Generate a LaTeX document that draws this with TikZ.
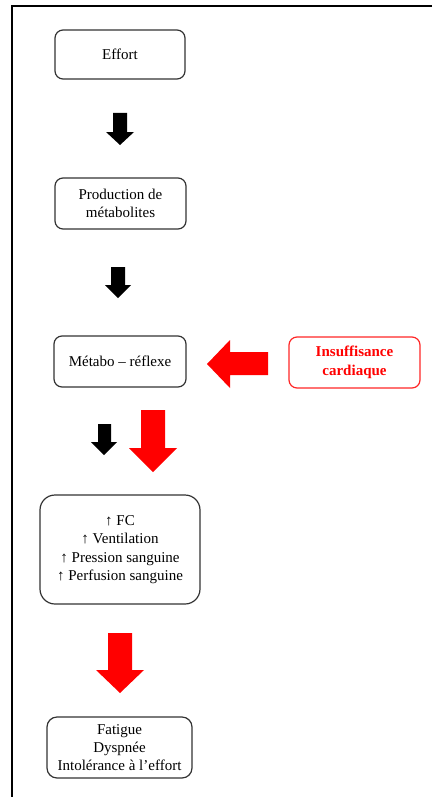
\documentclass[tikz,border=0pt]{standalone}
\usepackage{fontspec}
\setmainfont{Liberation Serif}
\usetikzlibrary{positioning}

\definecolor{boxgray}{HTML}{333333}
\definecolor{alertred}{HTML}{FF0000}

\tikzset{
  etape/.style={draw=boxgray,line width=1.2pt,rounded corners=8pt,align=center,
    font=\fontsize{15}{18.5}\selectfont,inner sep=2pt},
  alerte/.style={etape,draw=alertred!85,text=alertred,font=\fontsize{15}{18.5}\selectfont\bfseries}
}

\begin{document}
\begin{tikzpicture}[x=1pt,y=-1pt]
\useasboundingbox (0,0) rectangle (441,797);
% frame
\draw[line width=2pt] (432,6)--(12,6)--(12,797);
% boxes
\node[etape,minimum width=130pt,minimum height=49pt] (effort) at (120,54.5){Effort};
\node[etape,minimum width=131pt,minimum height=51pt] (prod) at (120.5,203.5){Production de\\métabolites};
\node[etape,minimum width=132pt,minimum height=51pt] (metabo) at (120,361.5){Métabo -- réflexe};
\node[alerte,minimum width=131pt,minimum height=51pt] (ic) at (354.5,362.5){Insuffisance\\cardiaque};
\node[etape,minimum width=160pt,minimum height=109pt,rounded corners=15pt] (reponse) at (120,549.5)
  {↑ FC\\↑ Ventilation\\↑ Pression sanguine\\↑ Perfusion sanguine};
\node[etape,minimum width=145pt,minimum height=61pt,rounded corners=10pt,
  font=\fontsize{15}{18}\selectfont] (fatigue) at (119.5,747.5)
  {Fatigue\\Dyspnée\\Intolérance à l’effort};
% block arrows
\fill[black] (113,113)--(127,113)--(127,132)--(134,132)--(120,145)--(106,132)--(113,132)--cycle;
\fill[black] (111,267)--(125,267)--(125,285)--(131,285)--(118,298)--(105,285)--(111,285)--cycle;
\fill[black] (98,424)--(111,424)--(111,442)--(117,442)--(104,455)--(91,442)--(98,442)--cycle;
\fill[alertred] (268,352)--(268,375)--(230,375)--(230,388)--(207,364)--(230,340)--(230,352)--cycle;
\fill[alertred] (141,410)--(165,410)--(165,448)--(177,448)--(153,472)--(129,448)--(141,448)--cycle;
\fill[alertred] (108,633)--(132,633)--(132,670)--(144,670)--(120,693)--(96,670)--(108,670)--cycle;
\end{tikzpicture}
\end{document}
